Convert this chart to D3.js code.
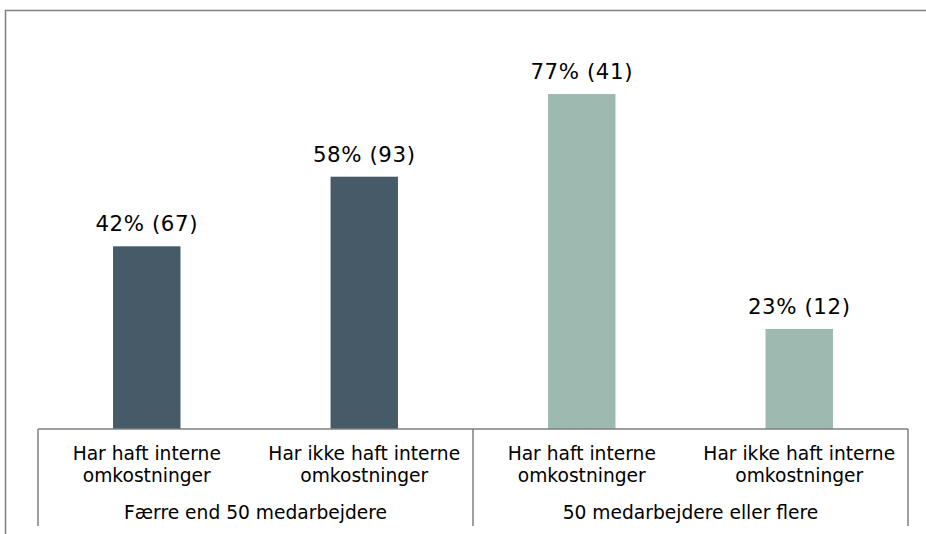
<!DOCTYPE html>
<html>
<head>
<meta charset="utf-8">
<script src="https://cdn.jsdelivr.net/npm/d3@7"></script>
<style>
  html, body { margin: 0; padding: 0; background: #fff; }
  svg { display: block; font-family: "DejaVu Sans", Verdana, sans-serif; }
</style>
</head>
<body>
<svg id="chart" width="926" height="534"></svg>
<script>
// Share of companies (percent) and number of respondents per bar
const groups = ["Færre end 50 medarbejdere", "50 medarbejdere eller flere"];
const categories = ["Har haft interne omkostninger", "Har ikke haft interne omkostninger"];
const percents = [42, 58, 77, 23];
const counts = [67, 93, 41, 12];
const barGroup = [0, 0, 1, 1];
const groupColors = ["#465a68", "#9db9b0"];

const svg = d3.select("#chart");

// Outer frame
svg.append("rect")
  .attr("x", 5.5).attr("y", 10.5)
  .attr("width", 1000).attr("height", 600)
  .attr("fill", "none")
  .attr("stroke", "#7f7f7f")
  .attr("stroke-width", 1.5);

const left = 38, right = 908, base = 429;
const bars = percents.map((p, i) => ({
  key: i,
  group: barGroup[i],
  cat: categories[i % categories.length],
  pct: p,
  n: counts[i]
}));

const x = d3.scaleBand()
  .domain(bars.map(d => d.key))
  .range([left, right])
  .paddingInner(0.69)
  .paddingOuter(0.345);

const y = d3.scaleLinear().domain([0, 100]).range([base, base - 435]);

// Bars
svg.append("g").selectAll("rect")
  .data(bars)
  .join("rect")
  .attr("x", d => x(d.key))
  .attr("y", d => y(d.pct))
  .attr("width", x.bandwidth())
  .attr("height", d => y(0) - y(d.pct))
  .attr("fill", d => groupColors[d.group]);

// Value labels
svg.append("g").selectAll("text")
  .data(bars)
  .join("text")
  .attr("x", d => x(d.key) + x.bandwidth() / 2)
  .attr("y", d => y(d.pct) - 15)
  .attr("text-anchor", "middle")
  .attr("font-size", 21.3)
  .attr("letter-spacing", 0.6)
  .attr("fill", "#000")
  .text(d => `${d.pct}% (${d.n})`);

// Category axis with group separators
const axisColor = "#7f7f7f";
const ax = svg.append("g");
ax.append("line")
  .attr("x1", left).attr("x2", right)
  .attr("y1", base).attr("y2", base)
  .attr("stroke", axisColor).attr("stroke-width", 1.5);

const groupScale = d3.scaleBand().domain(groups).range([left, right]);
const dividers = [left, ...groups.map(g => groupScale(g) + groupScale.bandwidth())];
ax.selectAll("line.div")
  .data(dividers)
  .join("line")
  .attr("class", "div")
  .attr("x1", d => d).attr("x2", d => d)
  .attr("y1", base).attr("y2", 526)
  .attr("stroke", axisColor).attr("stroke-width", 1.5);

// Two-line category labels
const catLabels = ax.selectAll("text.cat")
  .data(bars)
  .join("text")
  .attr("class", "cat")
  .attr("text-anchor", "middle")
  .attr("font-size", 18.67)
  .attr("fill", "#000")
  .attr("transform", d => `translate(${x(d.key) + x.bandwidth() / 2},0)`);

catLabels.each(function(d) {
  const words = d.cat.split(" ");
  const lines = [words.slice(0, -1).join(" "), words[words.length - 1]];
  d3.select(this).selectAll("tspan")
    .data(lines)
    .join("tspan")
    .attr("x", 0)
    .attr("y", (l, i) => 460 + i * 22)
    .text(l => l);
});

// Group labels
ax.selectAll("text.grp")
  .data(groups)
  .join("text")
  .attr("class", "grp")
  .attr("x", g => groupScale(g) + groupScale.bandwidth() / 2)
  .attr("y", 519)
  .attr("text-anchor", "middle")
  .attr("font-size", 18.67)
  .attr("fill", "#000")
  .text(g => g);
</script>
</body>
</html>
